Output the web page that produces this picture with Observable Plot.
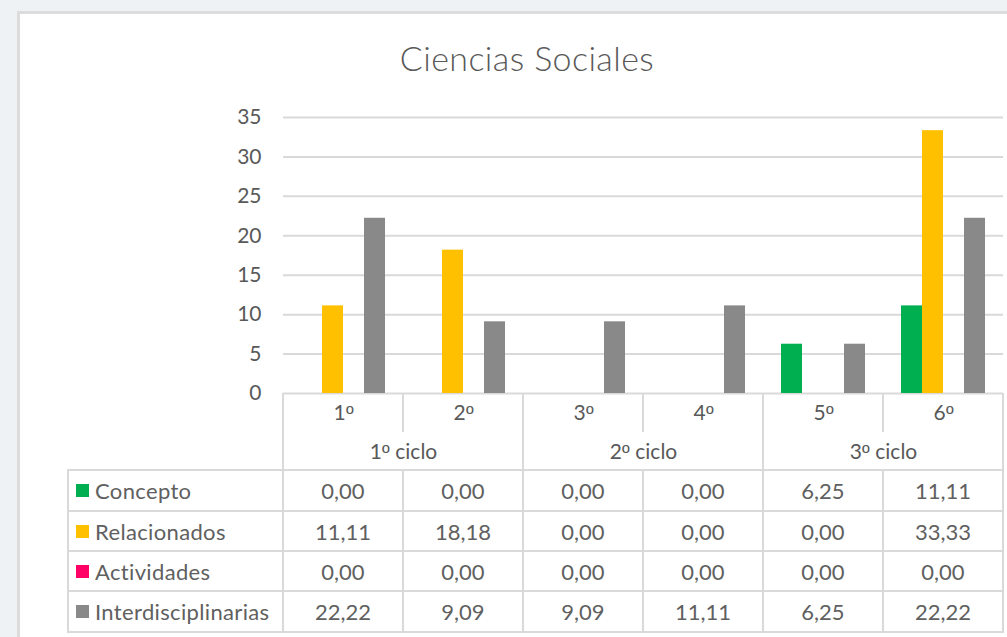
<!DOCTYPE html>
<html>
<head>
<meta charset="utf-8">
<script src="https://cdn.jsdelivr.net/npm/d3@7"></script>
<script src="https://cdn.jsdelivr.net/npm/@observablehq/plot@0.6"></script>
<style>
  @font-face { font-family: "OrdMix"; src: local("Liberation Sans"), local("LiberationSans"), local("LiberationSans-Regular"), local("DejaVu Sans"), local("DejaVuSans"); unicode-range: U+00BA; }
  html, body { margin: 0; padding: 0; }
  body { width: 1007px; height: 637px; background: #eef2f4; position: relative; overflow: hidden; font-family: OrdMix, Lato, "Open Sans", sans-serif; color: #606060; }
  #card { position: absolute; left: 17px; top: 11px; width: 1000px; height: 640px; background: #fff; border-left: 3px solid #dcdcdc; border-top: 3px solid #dcdcdc; box-sizing: border-box; }
  #title { position: absolute; left: 0; width: 1054px; top: 41px; text-align: center; font-size: 34px; font-weight: 300; letter-spacing: 0.4px; color: #595959; line-height: 1; font-family: Lato, sans-serif; }
  #chart { position: absolute; left: 0; top: 0; }
  .grid { position: absolute; display: grid; box-sizing: border-box; }
  .grid > div { box-sizing: border-box; display: flex; align-items: center; justify-content: center; }
  #header { left: 282px; top: 393px; grid-template-columns: repeat(6, 120px); grid-template-rows: 39px 38px; border-left: 2px solid #d9d9d9; }
  #header > div { border-right: 2px solid #d9d9d9; }
  #table { left: 67px; top: 469px; grid-template-columns: 215px repeat(6, 120px); grid-template-rows: 41px 40px 40px 41px; border-left: 2px solid #d9d9d9; border-top: 2px solid #d9d9d9; font-size: 22px; }
  #table > div { border-right: 2px solid #d9d9d9; border-bottom: 2px solid #d9d9d9; }
  #table > div.lab { justify-content: flex-start; padding-left: 7px; letter-spacing: 0.35px; }
  .sw { display: inline-block; width: 13px; height: 13px; margin-right: 6px; }
</style>
</head>
<body>
<div id="card"></div>
<div id="title">Ciencias Sociales</div>
<div id="header" class="grid"></div>
<div id="table" class="grid"></div>
<div id="chart"></div>
<script>
const categories = ["1º", "2º", "3º", "4º", "5º", "6º"];
const cycles = ["1º ciclo", "2º ciclo", "3º ciclo"];
const series = ["Concepto", "Relacionados", "Actividades", "Interdisciplinarias"];
const concepto = [0.00, 0.00, 0.00, 0.00, 6.25, 11.11];
const relacionados = [11.11, 18.18, 0.00, 0.00, 0.00, 33.33];
const actividades = [0.00, 0.00, 0.00, 0.00, 0.00, 0.00];
const interdisciplinarias = [22.22, 9.09, 9.09, 11.11, 6.25, 22.22];
const colors = ["#00b050", "#ffc000", "#ff0066", "#898989"];
const yTicks = [0, 5, 10, 15, 20, 25, 30, 35];

const valuesBySeries = [concepto, relacionados, actividades, interdisciplinarias];
const data = [];
series.forEach((s, si) => categories.forEach((c, ci) => data.push({cat: c, series: s, value: valuesBySeries[si][ci]})));
const cycleData = cycles.map((name, i) => ({name, first: categories[2 * i]}));

const chart = Plot.plot({
  width: 1007,
  height: 470,
  marginTop: 117,
  marginBottom: 77,
  marginLeft: 283,
  marginRight: 4,
  style: {background: "transparent", fontFamily: "OrdMix, Lato, 'Open Sans', sans-serif", fontSize: "21px", color: "#595959", overflow: "visible"},
  fx: {domain: categories, padding: 0, axis: "bottom", tickSize: 0, tickPadding: 12, label: null},
  x: {domain: series, paddingInner: 0, paddingOuter: 0.76, axis: null},
  y: {domain: [0, 35], ticks: yTicks, tickSize: 0, tickPadding: 22, label: null},
  color: {domain: series, range: colors},
  marks: [
    Plot.ruleY(yTicks, {stroke: "#d9d9d9", strokeWidth: 2}),
    Plot.barY(data, {fx: "cat", x: "series", y: "value", fill: "series"}),
    Plot.text(cycleData, {fx: "first", text: "name", frameAnchor: "bottom-right", textAnchor: "middle", dy: 65, fill: "#595959"})
  ]
});
document.getElementById("chart").appendChild(chart);

// header grid (cell borders only)
const header = document.getElementById("header");
categories.forEach(() => { header.appendChild(document.createElement("div")); });
cycles.forEach(() => { const d = document.createElement("div"); d.style.gridColumn = "span 2"; header.appendChild(d); });

// data table
const fmt = v => v.toFixed(2).replace(".", ",");
const table = document.getElementById("table");
series.forEach((s, si) => {
  const lab = document.createElement("div");
  lab.className = "lab";
  const sw = document.createElement("span");
  sw.className = "sw";
  sw.style.background = colors[si];
  lab.appendChild(sw);
  lab.appendChild(document.createTextNode(s));
  table.appendChild(lab);
  valuesBySeries[si].forEach(v => {
    const c = document.createElement("div");
    c.textContent = fmt(v);
    table.appendChild(c);
  });
});
</script>
</body>
</html>
